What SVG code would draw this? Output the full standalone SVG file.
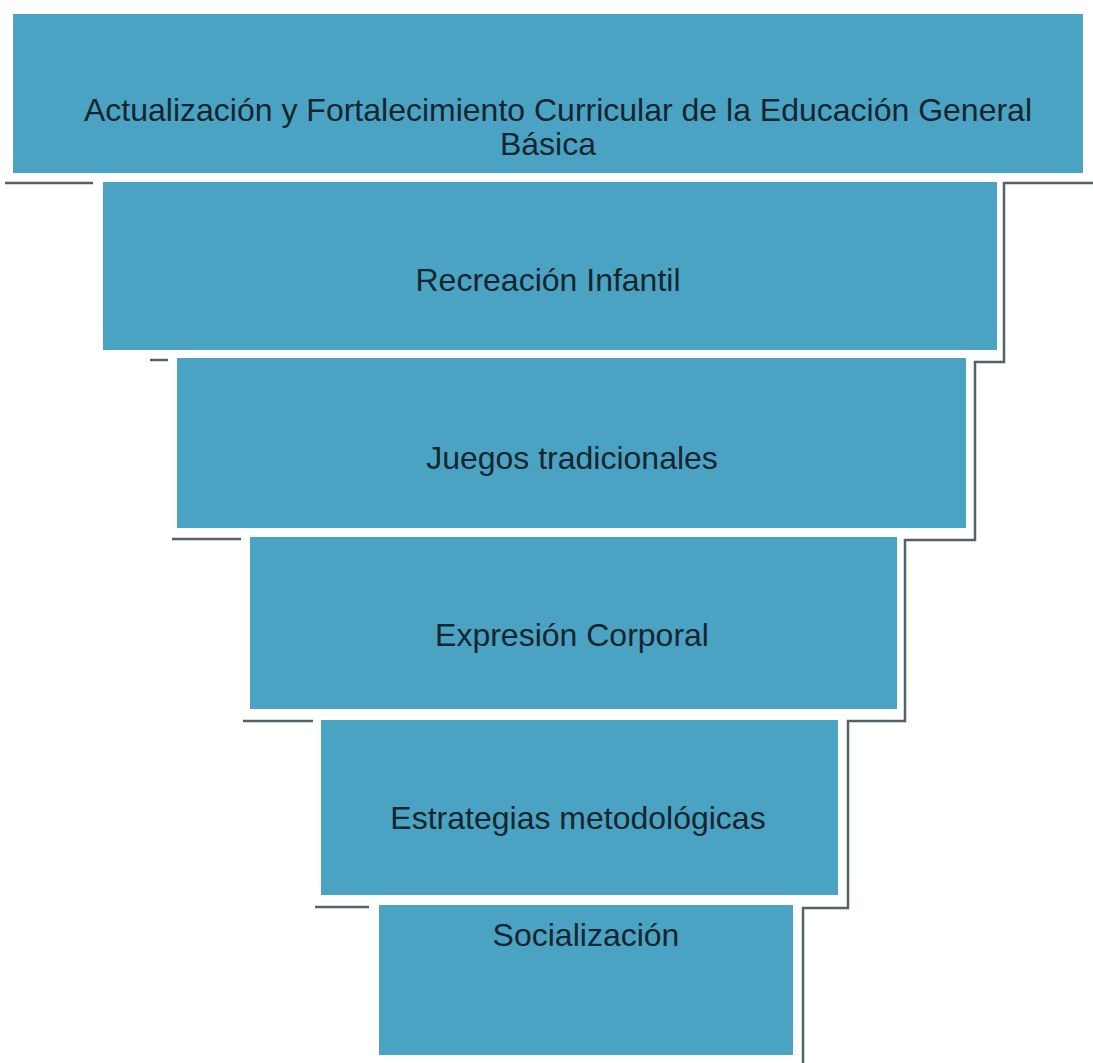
<svg xmlns="http://www.w3.org/2000/svg" width="1093" height="1063" viewBox="0 0 1093 1063">
<style>
.box{fill:#4BA3C3;}
.lbl{font-family:"Liberation Sans",Arial,sans-serif;font-size:32px;fill:#17252E;text-anchor:middle;}
.ln{fill:none;stroke:#56626B;stroke-width:2.5;}
</style>
<rect width="1093" height="1063" fill="#FFFFFF"/>
<g id="connectors">
<polyline class="ln" points="1093,183 1004,183 1004,362 975,362 975,540 905,540 905,721 848,721 848,908 803,908 803,1063"/>
<line class="ln" x1="5" y1="183" x2="93" y2="183"/>
<line class="ln" x1="150" y1="360" x2="168" y2="360"/>
<line class="ln" x1="172" y1="539" x2="241" y2="539"/>
<line class="ln" x1="243" y1="721" x2="313" y2="721"/>
<line class="ln" x1="315" y1="907" x2="369" y2="907"/>
</g>
<g id="n1">
<rect class="box" x="13" y="14" width="1070" height="159"/>
<text class="lbl" x="558" y="121">Actualización y Fortalecimiento Curricular de la Educación General</text>
<text class="lbl" x="548" y="155">Básica</text>
</g>
<g id="n2">
<rect class="box" x="103" y="182" width="894" height="168"/>
<text class="lbl" x="548" y="291">Recreación Infantil</text>
</g>
<g id="n3">
<rect class="box" x="177" y="358" width="789" height="170"/>
<text class="lbl" x="572" y="469">Juegos tradicionales</text>
</g>
<g id="n4">
<rect class="box" x="250" y="537" width="647" height="172"/>
<text class="lbl" x="572" y="646">Expresión Corporal</text>
</g>
<g id="n5">
<rect class="box" x="321" y="720" width="517" height="175"/>
<text class="lbl" x="578" y="829">Estrategias metodológicas</text>
</g>
<g id="n6">
<rect class="box" x="379" y="905" width="414" height="150"/>
<text class="lbl" x="586" y="946">Socialización</text>
</g>
</svg>
